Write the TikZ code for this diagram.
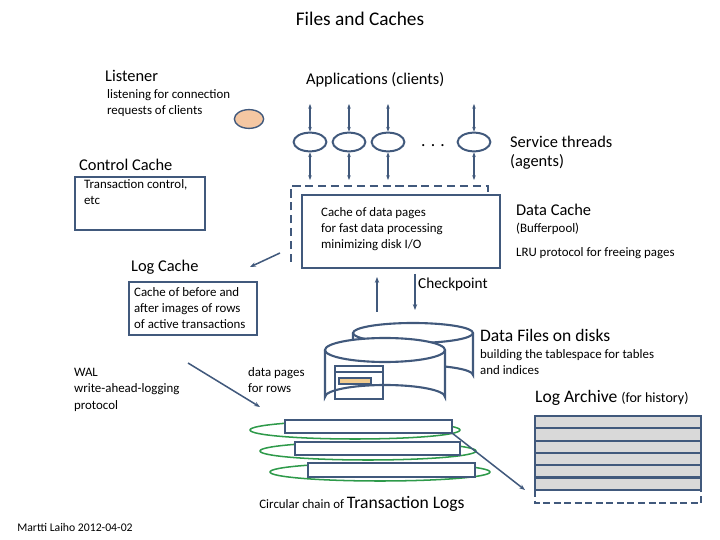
\documentclass[tikz,border=0pt]{standalone}
\usepackage{fontspec}
\setmainfont{Carlito}
\usetikzlibrary{positioning,arrows.meta,shapes.geometric}
\definecolor{slate}{HTML}{41597C}
\definecolor{loopgreen}{HTML}{2E9A4A}
\definecolor{peach}{HTML}{F5C7A2}
\definecolor{bar}{HTML}{F2CC8F}
\tikzset{
  box/.style={draw=slate, line width=1.8pt},
  thread/.style={ellipse, draw=slate, line width=1.7pt, minimum width=28pt, minimum height=16pt},
  link/.style={slate, line width=1.3pt, -{Stealth[length=5pt]}},
  both/.style={slate, line width=1.3pt, {Stealth[length=4pt]}-{Stealth[length=4pt]}},
  lbl/.style={font=\fontsize{14}{16}\selectfont, anchor=west},
  sml/.style={font=\fontsize{11}{14}\selectfont, anchor=west, align=left},
}
\begin{document}
\begin{tikzpicture}[x=0.03cm, y=-0.03cm]
  \useasboundingbox (0,0) rectangle (720,540);
  \node[font=\fontsize{16.5}{19}\selectfont] (title) at (360,19) {Files and Caches};

  % clients and listener
  \node[lbl] (listener) at (101,76) {Listener};
  \node[sml, align=left] (listen) at (103,103) {listening for connection\\requests of clients};
  \node[ellipse, draw=slate, fill=peach, line width=1.2pt, minimum width=25pt, minimum height=16pt] (port) at (249,119) {};
  \node[lbl] (apps) at (302,80) {Applications (clients)};

  % service threads
  \foreach \n/\x in {t1/310, t2/349, t3/388, t4/474} {
    \node[thread] (\n) at (\x,142) {};
    \coordinate (\n up) at (\x,104);
    \coordinate (\n dn) at (\x,180);
    \draw[both] (\n up) -- (\n.north);
    \draw[both] (\n.south) -- (\n dn);
  }
  \node[font=\fontsize{15}{16}\selectfont] (dots) at (433,146) {. . .};
  \node[lbl, align=left] (agents) at (506,153) {Service threads\\(agents)};

  % control cache
  \node[lbl] (ctrl) at (75,165) {Control Cache};
  \draw[box] (75,177) rectangle (205,230);
  \node[sml, anchor=north west] (ctrltext) at (80,175) {Transaction control,\\etc};

  % data cache
  \draw[slate, line width=1.8pt, dash pattern=on 7pt off 4pt] (291,262) -- (291,186) -- (488,186) -- (488,195);
  \draw[box, fill=white] (302,195) rectangle (500,268);
  \node[sml, anchor=north west] (cachetext) at (317,203) {Cache of data pages\\for fast data processing\\minimizing disk I/O};
  \node[lbl] (dcache) at (512,210) {Data Cache};
  \node[sml] (pool) at (512,229) {(Bufferpool)};
  \node[sml] (lru) at (512,253) {LRU protocol for freeing pages};

  % log cache
  \coordinate (fromdc) at (280,253);
  \coordinate (tolc) at (250,267);
  \draw[link] (fromdc) -- (tolc);
  \node[lbl] (lcache) at (127,267) {Log Cache};
  \draw[box] (129,282) rectangle (257,335);
  \node[sml, anchor=north west] (lctext) at (130,283) {Cache of before and\\after images of rows\\of active transactions};

  % checkpoint
  \coordinate (cpa) at (377,312);
  \coordinate (cpb) at (377,277);
  \coordinate (cpc) at (415,274);
  \coordinate (cpd) at (415,310);
  \draw[link] (cpa) -- (cpb);
  \draw[link] (cpc) -- (cpd);
  \node[sml, font=\fontsize{13}{15}\selectfont] (checkpt) at (414,284) {Checkpoint};

  % data files
  \draw[box, fill=white] (353,333) -- (353,375) arc[start angle=180, end angle=360, x radius=60, y radius=10] -- (473,333);
  \draw[box, fill=white] (413,333) ellipse[x radius=60, y radius=10];
  \draw[box, fill=white] (325,350) -- (325,397) arc[start angle=180, end angle=360, x radius=60, y radius=12] -- (445,350);
  \draw[box, fill=white] (385,350) ellipse[x radius=60, y radius=12];
  \draw[slate, line width=1.4pt] (335,366) rectangle (383,399);
  \draw[slate, line width=1.2pt] (335,372) -- (383,372);
  \draw[slate, line width=1pt, fill=bar] (339,378) rectangle (371,384);
  \node[lbl, font=\fontsize{15}{17}\selectfont] (files) at (476,335) {Data Files on disks};
  \node[sml, anchor=north west] (tbs) at (476,345) {building the tablespace for tables\\and indices};

  % WAL
  \node[sml, anchor=north west] (wal) at (70,364) {WAL\\write-ahead-logging\\protocol};
  \node[sml, anchor=north west] (pages) at (244,363) {data pages\\for rows};
  \coordinate (fromlc) at (188,363);
  \coordinate (tologs) at (260,407);
  \draw[link] (fromlc) -- (tologs);

  % circular chain of logs
  \foreach \cx/\cy/\r in {355/430/105, 368/451/108, 380/472/110} {
    \draw[loopgreen, line width=1.3pt] (\cx,\cy) ellipse[x radius=\r, y radius=9];
  }
  \draw[box, fill=white] (285,420) rectangle (452,433);
  \draw[box, fill=white] (295,442) rectangle (460,455);
  \draw[box, fill=white] (308,463) rectangle (475,477);
  \coordinate (logend) at (452,433);
  \coordinate (archin) at (525,490);
  \draw[link] (logend) -- (archin);
  \node (chain) at (362,504) {\fontsize{11}{13}\selectfont Circular chain of \fontsize{15}{17}\selectfont Transaction Logs};

  % log archive
  \node[lbl, font=\fontsize{15}{17}\selectfont] (archive) at (531,398) {Log Archive {\fontsize{12}{14}\selectfont(for history)}};
  \draw[box, fill=gray!30] (535,416) rectangle (701,490);
  \foreach \y in {428.3,440.6,452.9,465.2,477.5} {
    \draw[box] (535,\y) -- (701,\y);
  }
  \draw[slate, line width=1.8pt, dash pattern=on 6pt off 3pt] (535,490) -- (535,503) -- (701,503) -- (701,490);

  \node[font=\fontsize{10}{12}\selectfont] (author) at (75,527) {Martti Laiho 2012-04-02};
\end{tikzpicture}
\end{document}
